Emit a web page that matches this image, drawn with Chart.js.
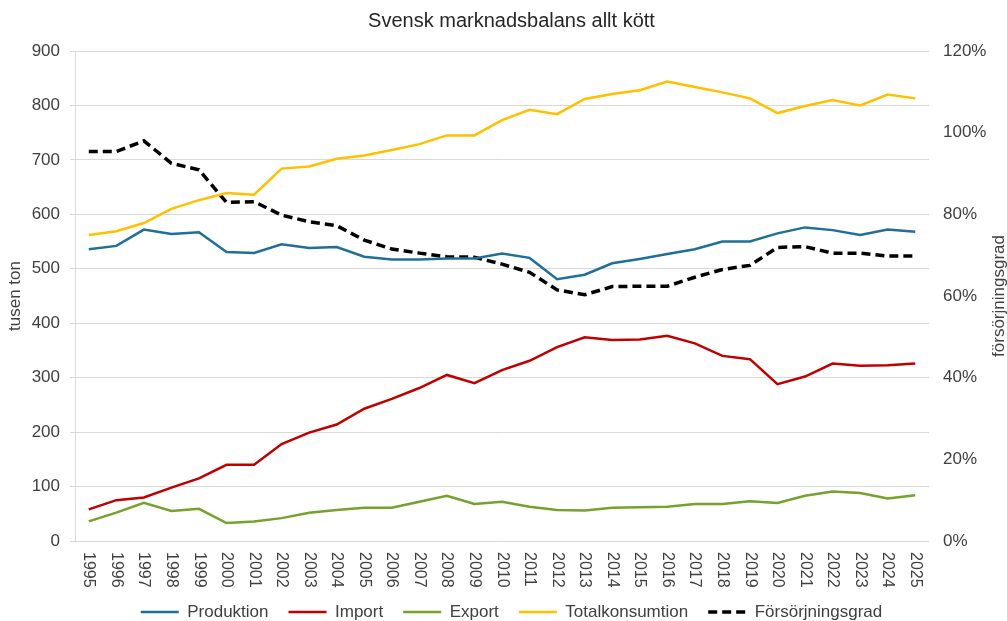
<!DOCTYPE html>
<html>
<head>
<meta charset="utf-8">
<title>Svensk marknadsbalans allt kött</title>
<script src="https://cdn.jsdelivr.net/npm/chart.js@4/dist/chart.umd.min.js"></script>
<style>
    body { margin: 0; background: #fff; }
    #wrap { width: 1007px; height: 621px; }
</style>
</head>
<body>
<div id="wrap"><canvas id="balansChart"></canvas></div>
<script>
// Data (tusen ton, försörjningsgrad in %)
const years = ['1995', '1996', '1997', '1998', '1999', '2000', '2001', '2002', '2003', '2004',
    '2005', '2006', '2007', '2008', '2009', '2010', '2011', '2012', '2013', '2014',
    '2015', '2016', '2017', '2018', '2019', '2020', '2021', '2022', '2023', '2024', '2025'];

const produktion = [536, 542, 572, 564, 567, 531, 529, 545, 538, 540, 522, 517, 517, 519, 519, 528,
    520, 481, 489, 510, 518, 527, 536, 550, 550, 565, 576, 571, 562, 572, 568];
const importVals = [58, 75, 80, 98, 115, 140, 140, 178, 199, 214, 243, 261, 281, 305, 290, 314,
    331, 356, 374, 369, 370, 377, 363, 340, 334, 288, 302, 326, 322, 323, 326];
const exportVals = [36, 52, 70, 55, 59, 33, 36, 42, 52, 57, 61, 61, 72, 83, 68, 72,
    63, 57, 56, 61, 62, 63, 68, 68, 73, 70, 83, 91, 88, 78, 84];
const totalkonsumtion = [562, 569, 584, 610, 626, 639, 636, 684, 688, 702, 708, 718, 729, 745, 745, 773,
    792, 784, 812, 821, 828, 844, 834, 824, 813, 786, 799, 810, 800, 820, 813];
const forsorjningsgrad = [95.4, 95.4, 98.0, 92.5, 90.9, 82.9, 83.1, 79.8, 78.2, 77.2, 73.7, 71.5, 70.5, 69.6, 69.5, 67.8,
    65.8, 61.5, 60.3, 62.3, 62.4, 62.4, 64.6, 66.5, 67.5, 71.9, 72.1, 70.5, 70.5, 69.8, 69.8];

const fontFamily = "'Liberation Sans', Arial, sans-serif";
const textColor = '#404040';
const gridColor = '#d9d9d9';

// Years are drawn top-to-bottom (rotated clockwise), which Chart.js can't do itself
const yearLabelsPlugin = {
    id: 'yearLabels',
    afterDraw(chart) {
        const ctx = chart.ctx;
        const xScale = chart.scales.x;
        ctx.save();
        ctx.font = '16px ' + fontFamily;
        ctx.fillStyle = textColor;
        ctx.textAlign = 'left';
        ctx.textBaseline = 'middle';
        years.forEach((label, i) => {
            ctx.save();
            ctx.translate(xScale.getPixelForValue(i), xScale.top + 11);
            ctx.rotate(Math.PI / 2);
            ctx.fillText(label, 0, 0);
            ctx.restore();
        });
        ctx.restore();
    }
};

// Axis titles: left one bottom-to-top, right one too (Chart.js turns the right one the other way)
const axisTitlesPlugin = {
    id: 'axisTitles',
    afterDraw(chart) {
        const ctx = chart.ctx;
        const area = chart.chartArea;
        const midY = (area.top + area.bottom) / 2;
        ctx.save();
        ctx.font = '17px ' + fontFamily;
        ctx.fillStyle = textColor;
        ctx.textAlign = 'center';
        ctx.textBaseline = 'middle';
        [[15, 'tusen ton'], [999, 'försörjningsgrad']].forEach(([x, text]) => {
            ctx.save();
            ctx.translate(x, midY);
            ctx.rotate(-Math.PI / 2);
            ctx.fillText(text, 0, 0);
            ctx.restore();
        });
        ctx.restore();
    }
};

function lineSet(label, data, color, axis, dash, width) {
    return {
        label: label,
        data: data,
        borderColor: color,
        backgroundColor: color,
        borderWidth: width,
        borderDash: dash,
        pointRadius: 0,
        pointHoverRadius: 0,
        tension: 0,
        fill: false,
        yAxisID: axis
    };
}

// Legend lines should copy the dataset's width and dash
function legendLabels(chart) {
    const items = Chart.defaults.plugins.legend.labels.generateLabels(chart);
    items.forEach(item => {
        const ds = chart.data.datasets[item.datasetIndex];
        item.lineWidth = ds.borderWidth;
        item.lineDash = ds.borderDash;
        item.strokeStyle = ds.borderColor;
    });
    return items;
}

new Chart(document.getElementById('balansChart'), {
    type: 'line',
    data: {
        labels: years,
        datasets: [
            lineSet('Produktion', produktion, '#1f6f98', 'y', [], 2.5),
            lineSet('Import', importVals, '#c00000', 'y', [], 2.5),
            lineSet('Export', exportVals, '#76a12b', 'y', [], 2.5),
            lineSet('Totalkonsumtion', totalkonsumtion, '#ffc000', 'y', [], 2.5),
            lineSet('Försörjningsgrad', forsorjningsgrad, '#000000', 'y1', [9, 5], 3.5)
        ]
    },
    options: {
        responsive: true,
        maintainAspectRatio: false,
        animation: false,
        layout: { padding: { left: 16, right: 0, top: 0, bottom: -9.5 } },
        plugins: {
            title: {
                display: true,
                text: 'Svensk marknadsbalans allt kött',
                color: '#262626',
                font: { family: fontFamily, size: 20, weight: 'normal' },
                padding: { top: 9, bottom: 18 }
            },
            legend: {
                position: 'bottom',
                labels: {
                    usePointStyle: true,
                    pointStyle: 'line',
                    pointStyleWidth: 38,
                    padding: 20,
                    color: textColor,
                    font: { family: fontFamily, size: 17 },
                    generateLabels: legendLabels
                }
            },
            tooltip: { enabled: false }
        },
        scales: {
            x: {
                type: 'category',
                offset: true,
                grid: { display: false },
                border: { display: false },
                ticks: { display: false },
                afterFit: function (scale) { scale.height = 42.5; }
            },
            y: {
                position: 'left',
                min: 0,
                max: 900,
                ticks: {
                    stepSize: 100,
                    padding: 10,
                    color: textColor,
                    font: { family: fontFamily, size: 17 }
                },
                grid: { color: gridColor, tickColor: gridColor, tickLength: 5, lineWidth: 1 },
                border: { color: gridColor },
                afterFit: function (scale) { scale.width = 59; }
            },
            y1: {
                position: 'right',
                min: 0,
                max: 120,
                ticks: {
                    stepSize: 20,
                    padding: 14,
                    color: textColor,
                    font: { family: fontFamily, size: 17 },
                    callback: function (value) { return value + '%'; }
                },
                grid: { drawOnChartArea: false, drawTicks: false },
                border: { display: false },
                afterFit: function (scale) { scale.width = 78; }
            }
        }
    },
    plugins: [yearLabelsPlugin, axisTitlesPlugin]
});
</script>
</body>
</html>
